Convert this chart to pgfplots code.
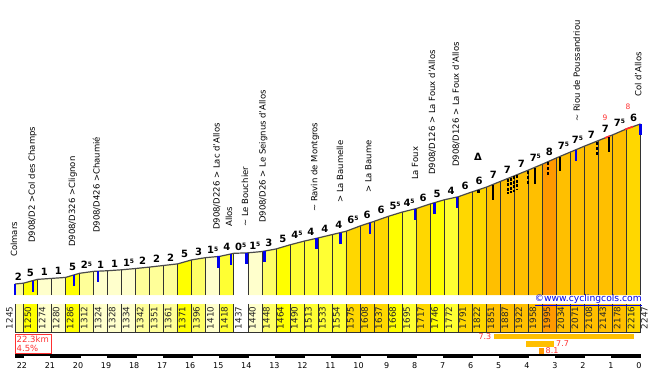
\documentclass[border=0pt]{standalone}
\usepackage{fontspec}
\setmainfont{DejaVu Sans}
\usepackage{pgfplots}
\pgfplotsset{compat=1.18}
\usepackage{pgfplotstable}

\definecolor{c0}{HTML}{FFFFFF}
\definecolor{c1}{HTML}{FFFFCC}
\definecolor{c2}{HTML}{FFFF99}
\definecolor{c3}{HTML}{FFFF66}
\definecolor{c4}{HTML}{FFFF33}
\definecolor{c5}{HTML}{FFFF00}
\definecolor{c6}{HTML}{FFD700}
\definecolor{c7}{HTML}{FFBF00}
\definecolor{c8}{HTML}{FF9900}
\definecolor{segline}{HTML}{333333}
\definecolor{topline}{HTML}{4A4A4A}
\definecolor{mkblue}{HTML}{0000EE}
\definecolor{mkred}{HTML}{FF3030}

\pgfplotstableread{
km ele
22.3 1245
22 1250
21.5 1274
21 1280
20.5 1286
20 1312
19.5 1324
19 1328
18.5 1334
18 1342
17.5 1351
17 1361
16.5 1371
16 1396
15.5 1410
15 1418
14.5 1437
14 1440
13.5 1448
13 1464
12.5 1490
12 1513
11.5 1533
11 1554
10.5 1575
10 1608
9.5 1637
9 1668
8.5 1695
8 1717
7.5 1746
7 1772
6.5 1791
6 1822
5.5 1851
5 1887
4.5 1922
4 1958
3.5 1995
3 2034
2.5 2071
2 2108
1.5 2143
1 2178
0.5 2216
0 2247
}\profile

\pgfplotstableread{
km top
22.3 1245
21.65 1266.8
20.2 1301.6
19.35 1325.2
15.05 1417.2
14.6 1433.2
14.05 1439.7
13.4 1451.2
11.55 1531
10.7 1566.6
9.65 1628.3
8.05 1714.8
7.35 1753.8
6.55 1789.1
2.3 2085.8
0 2247
}\bluebars

\newcommand\seg[5]{%
  \addplot[fill=#5,draw=none] coordinates {(#1,1176.1) (#1,#2) (#3,#4) (#3,1176.1)};
  \addplot[fill=#5,draw=none] coordinates {(#1,1119.8) (#1,944.5) (#3,944.5) (#3,1119.8)};
}
\newcommand\gfont{\fontsize{10}{10}\selectfont\bfseries}
\newcommand\h[1]{#1\raisebox{2.8pt}{\fontsize{6}{6}\selectfont 5}}
\newcommand\gl[3]{\node[anchor=base,font=\gfont,inner sep=0pt,yshift=2.5pt] at (axis cs:#1,#2) {#3};}
\newcommand\elfont{\fontsize{8.8}{9}\selectfont}
\newcommand\el[2]{\node[rotate=90,font=\elfont,inner sep=0pt,text=black!85] at (axis cs:#1,1032.2) {#2};}
\newcommand\pnfont{\fontsize{8.5}{9}\selectfont}
\newcommand\pn[3]{\node[rotate=90,anchor=west,inner sep=0pt,font=\pnfont] at (#1,372-#2) {#3};}
\newcommand\bm[4]{\addplot[black,line width=1.8pt,#4] coordinates {(#1,#2) (#1,#3)};}

\begin{document}
\begin{tikzpicture}
\begin{axis}[at={(0,0)},anchor=south west,scale only axis,width=654pt,height=372pt,
  xmin=-0.4807,xmax=22.8348,x dir=reverse,ymin=694.12,ymax=3022.84,hide axis,clip=false]

\seg{22.3}{1245}{22}{1250}{c2}
\seg{22}{1250}{21.5}{1274}{c5}
\seg{21.5}{1274}{21}{1280}{c1}
\seg{21}{1280}{20.5}{1286}{c1}
\seg{20.5}{1286}{20}{1312}{c5}
\seg{20}{1312}{19.5}{1324}{c2}
\seg{19.5}{1324}{19}{1328}{c1}
\seg{19}{1328}{18.5}{1334}{c1}
\seg{18.5}{1334}{18}{1342}{c1}
\seg{18}{1342}{17.5}{1351}{c2}
\seg{17.5}{1351}{17}{1361}{c2}
\seg{17}{1361}{16.5}{1371}{c2}
\seg{16.5}{1371}{16}{1396}{c5}
\seg{16}{1396}{15.5}{1410}{c3}
\seg{15.5}{1410}{15}{1418}{c1}
\seg{15}{1418}{14.5}{1437}{c4}
\seg{14.5}{1437}{14}{1440}{c0}
\seg{14}{1440}{13.5}{1448}{c1}
\seg{13.5}{1448}{13}{1464}{c3}
\seg{13}{1464}{12.5}{1490}{c5}
\seg{12.5}{1490}{12}{1513}{c4}
\seg{12}{1513}{11.5}{1533}{c4}
\seg{11.5}{1533}{11}{1554}{c4}
\seg{11}{1554}{10.5}{1575}{c4}
\seg{10.5}{1575}{10}{1608}{c6}
\seg{10}{1608}{9.5}{1637}{c6}
\seg{9.5}{1637}{9}{1668}{c6}
\seg{9}{1668}{8.5}{1695}{c5}
\seg{8.5}{1695}{8}{1717}{c4}
\seg{8}{1717}{7.5}{1746}{c6}
\seg{7.5}{1746}{7}{1772}{c5}
\seg{7}{1772}{6.5}{1791}{c4}
\seg{6.5}{1791}{6}{1822}{c6}
\seg{6}{1822}{5.5}{1851}{c6}
\seg{5.5}{1851}{5}{1887}{c7}
\seg{5}{1887}{4.5}{1922}{c7}
\seg{4.5}{1922}{4}{1958}{c7}
\seg{4}{1958}{3.5}{1995}{c7}
\seg{3.5}{1995}{3}{2034}{c8}
\seg{3}{2034}{2.5}{2071}{c7}
\seg{2.5}{2071}{2}{2108}{c7}
\seg{2}{2108}{1.5}{2143}{c7}
\seg{1.5}{2143}{1}{2178}{c7}
\seg{1}{2178}{0.5}{2216}{c7}
\seg{0.5}{2216}{0}{2247}{c6}

% vertical separators in profile
\addplot[draw=none,mark=none,error bars/.cd,y dir=minus,y explicit,error mark=none,
  error bar style={draw=segline,solid,line width=0.6pt}]
  table[x=km,y=ele,y error expr=\thisrow{ele}-1176.1] {\profile};
% vertical separators in band
\addplot[draw=none,mark=none,error bars/.cd,y dir=minus,y fixed=175.3,error mark=none,
  error bar style={draw=segline,solid,line width=0.6pt}]
  table[x=km,y expr=1119.8] {\profile};
\addplot[segline,line width=0.6pt] coordinates {(22.3,944.5) (0,944.5)};
% profile line
\addplot[topline,line width=1.2pt] table[x=km,y=ele] {\profile};
% red steep parts
\addplot[mkred,line width=1.6pt] coordinates {(1.266,2159.4) (1.088,2171.8)};
\addplot[mkred,line width=1.6pt] coordinates {(0.553,2212) (0.5,2216) (0.267,2230.4)};

% blue markers
\addplot[draw=none,mark=none,error bars/.cd,y dir=minus,y fixed=69,error mark=none,
  error bar style={draw=mkblue,solid,line width=2.4pt}]
  table[x=km,y=top] {\bluebars};

% black marks
\addplot[black,line width=3pt] coordinates {(5.783,1832) (5.783,1814)};
\bm{5.248}{1866}{1772}{}
\bm{4.724}{1903}{1809}{dash pattern=on 3pt off 1.5pt}
\bm{4.617}{1911}{1817}{dash pattern=on 3pt off 1.5pt}
\bm{4.510}{1918}{1824}{dash pattern=on 3pt off 1.5pt}
\bm{4.403}{1926}{1832}{dash pattern=on 3pt off 1.5pt}
\bm{4.0}{1955}{1867}{dash pattern=on 3pt off 2pt}
\bm{3.761}{1972}{1872}{}
\bm{3.287}{2008}{1927}{dash pattern=on 3pt off 2pt}
\bm{2.87}{2040}{1952}{}
\bm{1.562}{2135}{2050}{dash pattern=on 3pt off 2pt}
\bm{1.113}{2166}{2072}{}

% average gradient bars
\addplot[fill=c7,draw=none] coordinates {(5.224,932) (0.232,932) (0.232,900.7) (5.224,900.7)};
\addplot[fill=c7,draw=none] coordinates {(4.083,888.2) (3.085,888.2) (3.085,850.6) (4.083,850.6)};
\addplot[fill=c8,draw=none] coordinates {(3.62,844.4) (3.44,844.4) (3.44,806.8) (3.62,806.8)};

% grade labels
\gl{22.18}{1250}{2}
\gl{21.75}{1274}{5}
\gl{21.25}{1280}{1}
\gl{20.75}{1286}{1}
\gl{20.25}{1312}{5}
\gl{19.75}{1324}{\h{2}}
\gl{19.25}{1328}{1}
\gl{18.75}{1334}{1}
\gl{18.25}{1342}{\h{1}}
\gl{17.75}{1351}{2}
\gl{17.25}{1361}{2}
\gl{16.75}{1371}{2}
\gl{16.25}{1396}{5}
\gl{15.75}{1410}{3}
\gl{15.25}{1418}{\h{1}}
\gl{14.75}{1437}{4}
\gl{14.25}{1440}{\h{0}}
\gl{13.75}{1448}{\h{1}}
\gl{13.25}{1464}{3}
\gl{12.75}{1490}{5}
\gl{12.25}{1513}{\h{4}}
\gl{11.75}{1533}{4}
\gl{11.25}{1554}{4}
\gl{10.75}{1575}{4}
\gl{10.25}{1608}{\h{6}}
\gl{9.75}{1637}{6}
\gl{9.25}{1668}{6}
\gl{8.75}{1695}{\h{5}}
\gl{8.25}{1717}{\h{4}}
\gl{7.75}{1746}{6}
\gl{7.25}{1772}{5}
\gl{6.75}{1791}{4}
\gl{6.25}{1822}{6}
\gl{5.75}{1851}{6}
\gl{5.25}{1887}{7}
\gl{4.75}{1922}{7}
\gl{4.25}{1958}{7}
\gl{3.75}{1995}{\h{7}}
\gl{3.25}{2034}{8}
\gl{2.75}{2071}{\h{7}}
\gl{2.25}{2108}{\h{7}}
\gl{1.75}{2143}{7}
\gl{1.25}{2178}{7}
\gl{0.75}{2216}{\h{7}}
\gl{0.25}{2247}{6}

% elevation labels in band
\el{22.496}{1245}
\el{21.836}{1250}
\el{21.336}{1274}
\el{20.836}{1280}
\el{20.336}{1286}
\el{19.836}{1312}
\el{19.336}{1324}
\el{18.836}{1328}
\el{18.336}{1334}
\el{17.836}{1342}
\el{17.336}{1351}
\el{16.836}{1361}
\el{16.336}{1371}
\el{15.836}{1396}
\el{15.336}{1410}
\el{14.836}{1418}
\el{14.336}{1437}
\el{13.836}{1440}
\el{13.336}{1448}
\el{12.836}{1464}
\el{12.336}{1490}
\el{11.836}{1513}
\el{11.336}{1533}
\el{10.836}{1554}
\el{10.336}{1575}
\el{9.836}{1608}
\el{9.336}{1637}
\el{8.836}{1668}
\el{8.336}{1695}
\el{7.836}{1717}
\el{7.336}{1746}
\el{6.836}{1772}
\el{6.336}{1791}
\el{5.836}{1822}
\el{5.336}{1851}
\el{4.836}{1887}
\el{4.336}{1922}
\el{3.836}{1958}
\el{3.336}{1995}
\el{2.836}{2034}
\el{2.336}{2071}
\el{1.836}{2108}
\el{1.336}{2143}
\el{0.836}{2178}
\el{0.336}{2216}
\el{-0.140}{2247}
\end{axis}

\begin{scope}[x=1pt,y=1pt]
\path (0,0) rectangle (654,372);
% place names
\pn{14}{257}{Colmars}
\pn{32.5}{243}{D908/D2 >Col des Champs}
\pn{72.7}{247}{D908/D326 >Clignon}
\pn{96.7}{233}{D908/D426 >Chaumié}
\pn{216.7}{230}{D908/D226 > Lac d'Allos}
\pn{229}{227}{Allos}
\pn{245}{227}{\textasciitilde\ Le Bouchier}
\pn{263.3}{223}{D908/D26 > Le Seignus d'Allos}
\pn{315}{212}{\textasciitilde\ Ravin de Montgros}
\pn{340}{203}{> La Baumelle}
\pn{368.3}{193}{> La Baume}
\pn{415}{180}{La Foux}
\pn{432.3}{175}{D908/D126 > La Foux d'Allos}
\pn{456}{167}{D908/D126 > La Foux d'Allos}
\pn{576.7}{122}{\textasciitilde\ Riou de Poussandriou}
\pn{638.3}{97}{Col d'Allos}
% symbols
\node[font=\fontsize{10}{10}\selectfont\bfseries,inner sep=0pt] at (478,372-157) {Δ};
\node[font=\fontsize{7.5}{8}\selectfont,text=mkred,inner sep=0pt] at (605,372-118) {9};
\node[font=\fontsize{7.5}{8}\selectfont,text=mkred,inner sep=0pt] at (628,372-107) {8};
% website
\node[anchor=east,inner sep=0pt,text=mkblue,font=\fontsize{9.2}{10}\selectfont] at (642,372-300) {\underline{\textcopyright www.cyclingcols.com}};
% summary box
\draw[mkred,line width=0.8pt] (15,372-334) rectangle (51.5,372-353.5);
\node[anchor=west,inner sep=0pt,text=mkred,font=\fontsize{8.5}{9}\selectfont] at (16.5,372-339.5) {22.3km};
\node[anchor=west,inner sep=0pt,text=mkred,font=\fontsize{8.5}{9}\selectfont] at (16.5,372-348.5) {4.5\%};
% average labels
\node[anchor=east,inner sep=0pt,text=mkred,font=\fontsize{8}{9}\selectfont] at (491.5,372-336.5) {7.3};
\node[anchor=west,inner sep=0pt,text=mkred,font=\fontsize{8}{9}\selectfont] at (556,372-344) {7.7};
\node[anchor=west,inner sep=0pt,text=mkred,font=\fontsize{8}{9}\selectfont] at (545.5,372-351) {8.1};
% km scale bar
\fill[black] (15,372-354.5) rectangle (640.5,372-358.5);
\foreach \k in {22,20,...,2} {\fill[white] ({15+(22.3-\k)*28.05+1},372-355.6) rectangle ({15+(23.3-\k)*28.05-1},372-357.6);}
\foreach \k in {0,...,22} {\node[font=\fontsize{8}{9}\selectfont,inner sep=0pt] at ({15+(22.3-\k)*28.05-1.5},372-365.5) {\k};}
\end{scope}
\end{tikzpicture}
\end{document}
